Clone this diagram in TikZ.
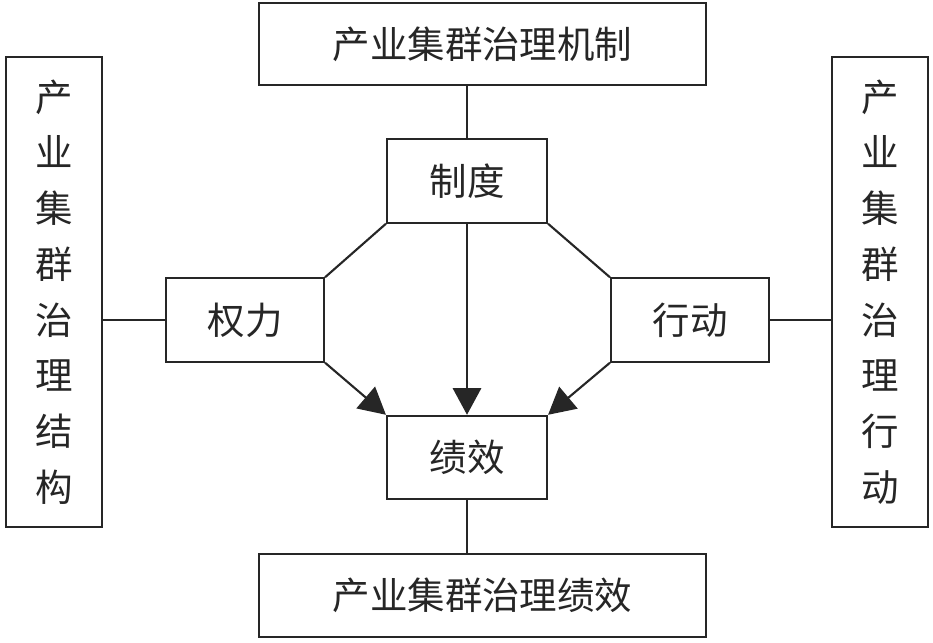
\documentclass[tikz,border=0pt]{standalone}
\usepackage{fontspec}
\newfontfamily\cjk{Noto Sans CJK SC}
\usetikzlibrary{arrows.meta}

\begin{document}
\begin{tikzpicture}[x=0.03cm,y=-0.03cm]

		\tikzset{line/.style={draw=black!85,line width=1.8pt}}
		\tikzset{arrow/.style={line,-{Triangle[length=0.8cm,width=0.85cm]}}}
		\tikzset{box/.style={line,shape=rectangle,inner sep=0pt,text=black!85,font=\cjk\fontsize{32}{47.6}\selectfont}}
		\tikzset{wide/.style={box,minimum width=13.41cm,minimum height=2.48cm}}
		\tikzset{small/.style={box,minimum width=4.8cm,minimum height=2.5cm}}
		\tikzset{tall/.style={box,minimum width=2.88cm,minimum height=14.1cm,align=center}}

		\useasboundingbox (0, 0) rectangle (933, 642);

		% Top and bottom.
		\node[wide] (jizhi) at (482.5, 44) {产业集群治理机制};
		\node[wide] (zhilijixiao) at (482.5, 595.5) {产业集群治理绩效};

		% Sides.
		\node[tall] (jiegou) at (54, 292) {产\\业\\集\\群\\治\\理\\结\\构};
		\node[tall] (zhilixingdong) at (880, 292) {产\\业\\集\\群\\治\\理\\行\\动};

		% Inner boxes.
		\node[small] (zhidu) at (467, 181) {制度};
		\node[small,minimum width=4.74cm] (quanli) at (245, 320) {权力};
		\node[small,minimum width=4.74cm] (xingdong) at (690, 320) {行动};
		\node[small] (jixiao) at (467, 457.5) {绩效};

		\path[line] (zhidu.north) to (zhidu.north |- jizhi.south);
		\path[line] (jixiao.south) to (jixiao.south |- zhilijixiao.north);
		\path[line] (quanli.west) to (quanli.west -| jiegou.east);
		\path[line] (xingdong.east) to (xingdong.east -| zhilixingdong.west);

		\path[line] (zhidu.south west) to (quanli.north east);
		\path[line] (zhidu.south east) to (xingdong.north west);

		\path[arrow] (zhidu.south) to (jixiao.north);
		\path[arrow] (quanli.south east) to (jixiao.north west);
		\path[arrow] (xingdong.south west) to (jixiao.north east);

	\end{tikzpicture}
\end{document}
